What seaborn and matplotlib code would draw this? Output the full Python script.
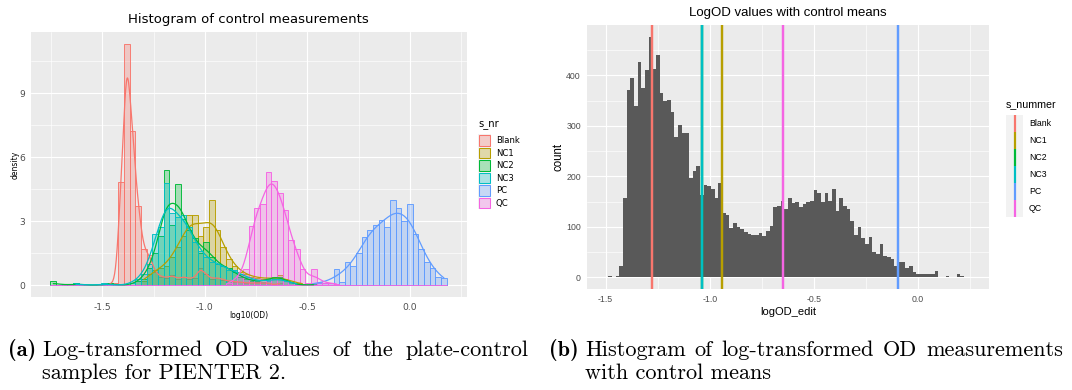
import numpy as np
import matplotlib
matplotlib.use("Agg")
import matplotlib.pyplot as plt
import seaborn as sns
from matplotlib.patches import Rectangle
from matplotlib.lines import Line2D
from matplotlib.ticker import MultipleLocator, FormatStrFormatter
from matplotlib.colors import to_rgba

# ---------------- data ----------------
groups = ["Blank", "NC1", "NC2", "NC3", "PC", "QC"]
group_colors = ["#F8766D", "#B79F00", "#00BA38", "#00BFC4", "#619CFF", "#F564E3"]

# left panel: density histograms on a shared bin grid
left_first_edge = -1.7528
left_bin_width = 0.0276

blank_density = [0, 0, 0, 0, 0, 0, 0, 0, 0, 0,
                 0.05, 0.1, 4.85, 11.3, 7.2, 3.7, 1.7, 1.4, 0.6, 0.4,
                 0.35, 0.45, 0.3, 0.4, 0.3, 0.35, 0.8, 0.5, 0.3, 0.35,
                 0.25, 0.2, 0.15, 0.15, 0.1, 0.1, 0.1, 0.1, 0.1, 0,
                 0.1, 0, 0, 0, 0, 0, 0, 0, 0, 0,
                 0, 0, 0, 0, 0, 0, 0, 0, 0, 0,
                 0, 0, 0, 0, 0, 0, 0, 0, 0, 0]
nc1_density = [0, 0, 0, 0, 0, 0, 0, 0, 0, 0,
               0, 0, 0, 0, 0, 0, 0.2, 0.5, 0.7, 0.8,
               0.9, 1.3, 1.8, 2.3, 3.3, 3.3, 2.3, 2.7, 4.0, 2.6,
               1.8, 1.2, 0.9, 0.6, 0.5, 0.4, 0.35, 0.3, 0.3, 0.3,
               0.45, 0.3, 0.15, 0.1, 0.05, 0, 0, 0, 0, 0,
               0, 0, 0, 0, 0, 0, 0, 0, 0, 0,
               0, 0, 0, 0, 0, 0, 0, 0, 0, 0]
nc2_density = [0.2, 0, 0, 0, 0.1, 0, 0, 0, 0, 0,
               0.1, 0, 0, 0, 0, 0.2, 0.3, 0.8, 1.5, 2.3,
               5.4, 2.8, 4.75, 3.1, 2.6, 2.2, 1.5, 2.0, 1.3, 1.0,
               0.9, 0.8, 0.6, 0.4, 0.3, 0.2, 0.15, 0.15, 0.3, 0.4,
               0.4, 0.25, 0.1, 0, 0, 0, 0.05, 0, 0, 0,
               0, 0, 0, 0, 0, 0, 0, 0, 0, 0,
               0, 0, 0, 0, 0, 0, 0, 0, 0, 0]
nc3_density = [0, 0, 0, 0, 0.1, 0, 0, 0, 0, 0.1,
               0, 0, 0, 0, 0.1, 0.3, 0.5, 1.0, 2.4, 2.7,
               4.8, 3.4, 3.2, 3.3, 2.7, 2.0, 1.6, 1.3, 1.1, 1.0,
               0.9, 0.7, 0.7, 0.5, 0.4, 0.3, 0.2, 0.15, 0.2, 0.3,
               0.3, 0.2, 0.1, 0.05, 0, 0, 0, 0, 0, 0,
               0, 0, 0, 0, 0, 0, 0, 0, 0, 0,
               0, 0, 0, 0, 0, 0, 0, 0, 0, 0]
pc_density = [0, 0, 0, 0, 0, 0, 0, 0, 0, 0,
              0, 0, 0, 0, 0, 0, 0, 0, 0, 0,
              0, 0, 0, 0, 0, 0, 0, 0, 0, 0,
              0, 0, 0, 0, 0, 0, 0, 0, 0, 0,
              0, 0, 0, 0, 0, 0, 0.1, 0.1, 0.1, 0.1,
              0.73, 0.15, 1.06, 0.9, 1.5, 2.25, 2.6, 2.8, 3.05, 2.7,
              4.0, 3.6, 3.0, 3.8, 2.4, 1.7, 1.1, 0.8, 0.4, 0.35]
qc_density = [0, 0, 0, 0, 0, 0, 0, 0, 0, 0,
              0, 0, 0, 0, 0, 0, 0, 0, 0, 0,
              0, 0, 0, 0, 0, 0, 0, 0, 0, 0,
              0, 0.1, 0.2, 0.45, 0.75, 2.75, 3.6, 3.8, 5.3, 4.9,
              4.3, 3.5, 2.1, 1.7, 0.75, 0.1, 0.75, 0.15, 0.1, 0.1,
              0.05, 0, 0, 0, 0, 0, 0, 0, 0, 0,
              0, 0, 0, 0, 0, 0, 0, 0, 0, 0]
# smoothing bandwidth of each density curve (log10 units)
density_bandwidth = [0.016, 0.04, 0.033, 0.035, 0.045, 0.029]

# right panel: count histogram of all logOD values + control means
right_first_edge = -1.505
right_bin_width = 0.0176
right_counts = [1, 2, 0, 3, 22, 157, 372, 395, 340, 426,
                375, 410, 476, 413, 440, 365, 350, 352, 327, 277,
                302, 285, 285, 197, 211, 221, 163, 182, 180, 174,
                157, 186, 128, 123, 97, 108, 100, 96, 90, 86,
                83, 83, 88, 81, 92, 102, 139, 142, 152, 135,
                158, 147, 150, 139, 146, 149, 152, 172, 167, 149,
                166, 152, 174, 131, 157, 142, 135, 111, 84, 100,
                77, 65, 79, 50, 46, 65, 43, 40, 36, 23,
                30, 30, 18, 22, 11, 7, 7, 7, 7, 7,
                12, 1, 1, 3, 1, 1, 6, 2, 1, 1]
control_means = [-1.279, -0.941, -1.039, -1.036, -0.099, -0.649]

left_title = "Histogram of control measurements"
right_title = "LogOD values with control means"
caption_a = ["Log-transformed OD values of the plate-control", "samples for PIENTER 2."]
caption_b = ["Histogram of log-transformed OD measurements", "with control means"]

# ---------------- style ----------------
sns.set_theme(style="darkgrid")
plt.rcParams["font.family"] = ["DejaVu Sans"]
plt.rcParams["axes.unicode_minus"] = False

W, H = 1072, 390
fig = plt.figure(figsize=(W / 100, H / 100), dpi=100)
fig.patch.set_facecolor("white")


def fx(x):
    return x / W


def fy(y):
    return 1 - y / H


def px_axes(x0, y0, x1, y1):
    return fig.add_axes([fx(x0), fy(y1), (x1 - x0) / W, (y1 - y0) / H])


def style_axes(ax, ymaj, ymin, fam, lsize):
    ax.set_facecolor("#EBEBEB")
    for s in ax.spines.values():
        s.set_visible(False)
    ax.set_axisbelow(True)
    ax.xaxis.set_major_locator(MultipleLocator(0.5))
    ax.xaxis.set_minor_locator(MultipleLocator(0.25))
    ax.yaxis.set_major_locator(MultipleLocator(ymaj))
    ax.yaxis.set_minor_locator(MultipleLocator(ymin))
    ax.xaxis.set_major_formatter(FormatStrFormatter("%.1f"))
    ax.yaxis.set_major_formatter(FormatStrFormatter("%d"))
    ax.grid(which="major", color="white", linewidth=0.85)
    ax.grid(which="minor", color="white", linewidth=0.45)
    ax.tick_params(which="minor", length=0)
    ax.tick_params(which="major", length=2.6, width=0.55, color="#333333",
                   labelcolor="#4D4D4D", labelsize=lsize, pad=1.6)
    for lab in ax.get_xticklabels() + ax.get_yticklabels():
        lab.set_family(fam)
    ax.set_xlabel("")
    ax.set_ylabel("")


# ---------------- left panel ----------------
axL = px_axes(30.7, 31.9, 466.6, 297.1)
left_series = [blank_density, nc1_density, nc2_density, nc3_density, pc_density, qc_density]
n_left = len(blank_density)
left_range = (left_first_edge, left_first_edge + n_left * left_bin_width)
centersL = left_first_edge + left_bin_width * (np.arange(n_left) + 0.5)

for g, c, dens, bw in zip(groups, group_colors, left_series, density_bandwidth):
    d = np.asarray(dens, float)
    keep = d > 0
    xs, ws = centersL[keep], d[keep]
    sd = float(np.sqrt(np.cov(xs, aweights=ws)))
    sns.histplot(x=xs, weights=ws, bins=n_left, binrange=left_range, stat="count",
                 kde=True, kde_kws={"bw_method": bw / sd, "gridsize": 400},
                 color=c, alpha=0.3, edgecolor=c, linewidth=0.65,
                 line_kws={"linewidth": 0.9}, ax=axL)

axL.set_xlim(-1.849, 0.276)
axL.set_ylim(-0.565, 11.865)
style_axes(axL, 3, 1.5, "DejaVu Sans", 6.6)

fig.text(fx(248.6), fy(20), left_title, ha="center", va="center",
         fontsize=9.5, family="DejaVu Sans", color="black")
fig.text(fx(15), fy(165), "density", ha="center", va="center", rotation=90,
         fontsize=5.5, family="DejaVu Sans", color="black")
fig.text(fx(248.6), fy(315), "log10(OD)", ha="center", va="center",
         fontsize=5.5, family="DejaVu Sans", color="black")

# left legend
fig.text(fx(478), fy(125), "s_nr", ha="left", va="center", fontsize=7.2,
         family="DejaVu Sans", color="black")
for i, (g, c) in enumerate(zip(groups, group_colors)):
    y0 = 134.3 + 12.5 * i
    fig.add_artist(Rectangle((fx(478), fy(y0 + 12.5)), 12.5 / W, 12.5 / H,
                             transform=fig.transFigure, facecolor="#F2F2F2",
                             edgecolor="none"))
    fig.add_artist(Rectangle((fx(479), fy(y0 + 11.5)), 10.5 / W, 10.5 / H,
                             transform=fig.transFigure, facecolor=to_rgba(c, 0.3),
                             edgecolor=c, linewidth=0.75))
    fig.text(fx(496), fy(y0 + 6.25), g, ha="left", va="center", fontsize=6.1,
             family="DejaVu Sans", color="black")

# ---------------- right panel ----------------
axR = px_axes(586.7, 25.0, 989.0, 289.3)
n_right = len(right_counts)
right_range = (right_first_edge, right_first_edge + n_right * right_bin_width)
centersR = right_first_edge + right_bin_width * (np.arange(n_right) + 0.5)
sns.histplot(x=centersR, weights=np.asarray(right_counts, float), bins=n_right,
             binrange=right_range, stat="count",
             color="#595959", alpha=1, linewidth=0, ax=axR)
for m, c in zip(control_means, group_colors):
    axR.axvline(m, color=c, linewidth=1.75, zorder=3)

axR.set_xlim(-1.591, 0.340)
axR.set_ylim(-23.8, 499.8)
style_axes(axR, 100, 50, "Liberation Sans", 6.3)

fig.text(fx(787.9), fy(13.3), right_title, ha="center", va="center",
         fontsize=9.5, family="Liberation Sans", color="black")
fig.text(fx(558), fy(157), "count", ha="center", va="center", rotation=90,
         fontsize=8.3, family="Liberation Sans", color="black")
fig.text(fx(787.9), fy(311.7), "logOD_edit", ha="center", va="center",
         fontsize=8.0, family="Liberation Sans", color="black")

# right legend (vertical-line keys)
fig.text(fx(1006), fy(104), "s_nummer", ha="left", va="center", fontsize=7.7,
         family="Liberation Sans", color="black")
key_h = 17.0
fig.add_artist(Rectangle((fx(1006), fy(115 + 6 * key_h)), 17 / W, 6 * key_h / H,
                         transform=fig.transFigure, facecolor="#F2F2F2",
                         edgecolor="none"))
for i, (g, c) in enumerate(zip(groups, group_colors)):
    y0 = 115 + key_h * i
    fig.add_artist(Line2D([fx(1014.5), fx(1014.5)], [fy(y0), fy(y0 + key_h)],
                          transform=fig.transFigure, color=c, linewidth=1.6,
                          solid_capstyle="butt"))
    fig.text(fx(1029), fy(y0 + key_h / 2), g, ha="left", va="center",
             fontsize=6.3, family="Liberation Sans", color="black")

# ---------------- captions (LaTeX-like, first line justified) ----------------
cap_size = 16
renderer = fig.canvas.get_renderer()
min_gap = 0.333 * cap_size * 100 / 72


def justified(text, x0, x1, ybase):
    words = text.split(" ")
    arts = [fig.text(0, fy(ybase), w, ha="left", va="baseline", fontsize=cap_size,
                     family="cmr10", color="black") for w in words]
    widths = [a.get_window_extent(renderer).width for a in arts]
    gap = max(min_gap, (x1 - x0 - sum(widths)) / (len(words) - 1))
    x = x0
    for a, w in zip(arts, widths):
        a.set_x(fx(x))
        x += w + gap


for (lab, x_lab, x_txt, x_right, lines) in [("(a)", 8, 42, 528, caption_a),
                                            ("(b)", 549, 585, 1063, caption_b)]:
    fig.text(fx(x_lab), fy(356), lab, ha="left", va="baseline",
             fontsize=cap_size, family="cmb10", color="black")
    justified(lines[0], x_txt, x_right, 356)
    fig.text(fx(x_txt), fy(379), lines[1], ha="left", va="baseline",
             fontsize=cap_size, family="cmr10", color="black")

fig.savefig("out.png", dpi=100, facecolor="white")
